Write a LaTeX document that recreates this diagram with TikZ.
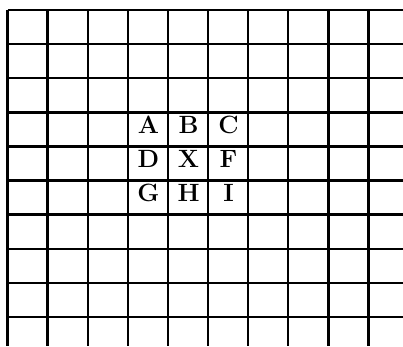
\documentclass[tikz,border=0pt]{standalone}
\usepackage{fontspec}
\usetikzlibrary{positioning}
\begin{document}
\begin{tikzpicture}[x=1pt, y=-1pt,
		gridline/.style={line width=2.4pt, color=black},
		letter/.style={inner sep=0pt, text height=0.68em, text depth=0pt, anchor=center,
			font=\fontsize{25}{25}\selectfont\bfseries}
		]
		\useasboundingbox (0,0) rectangle (403,346);
		
		% --- Grid ---
		\foreach \i in {0,...,9}
		\draw[gridline] (7.5+40.1*\i,10) -- (7.5+40.1*\i,346);
		\foreach \j in {0,...,9}
		\draw[gridline] (7.5,10+34.1*\j) -- (403,10+34.1*\j);
		
		% --- Neighbourhood letters ---
		\node[letter] (A) at (148.5,130) {A};
		\node[letter] (B) at (188.5,130) {B};
		\node[letter] (C) at (228.5,130) {C};
		\node[letter] (D) at (148.5,164) {D};
		\node[letter] (X) at (188.5,164) {X};
		\node[letter] (F) at (228.5,164) {F};
		\node[letter] (G) at (148.5,198) {G};
		\node[letter] (H) at (188.5,198) {H};
		\node[letter] (I) at (228.5,198) {I};
		
	\end{tikzpicture}
\end{document}
